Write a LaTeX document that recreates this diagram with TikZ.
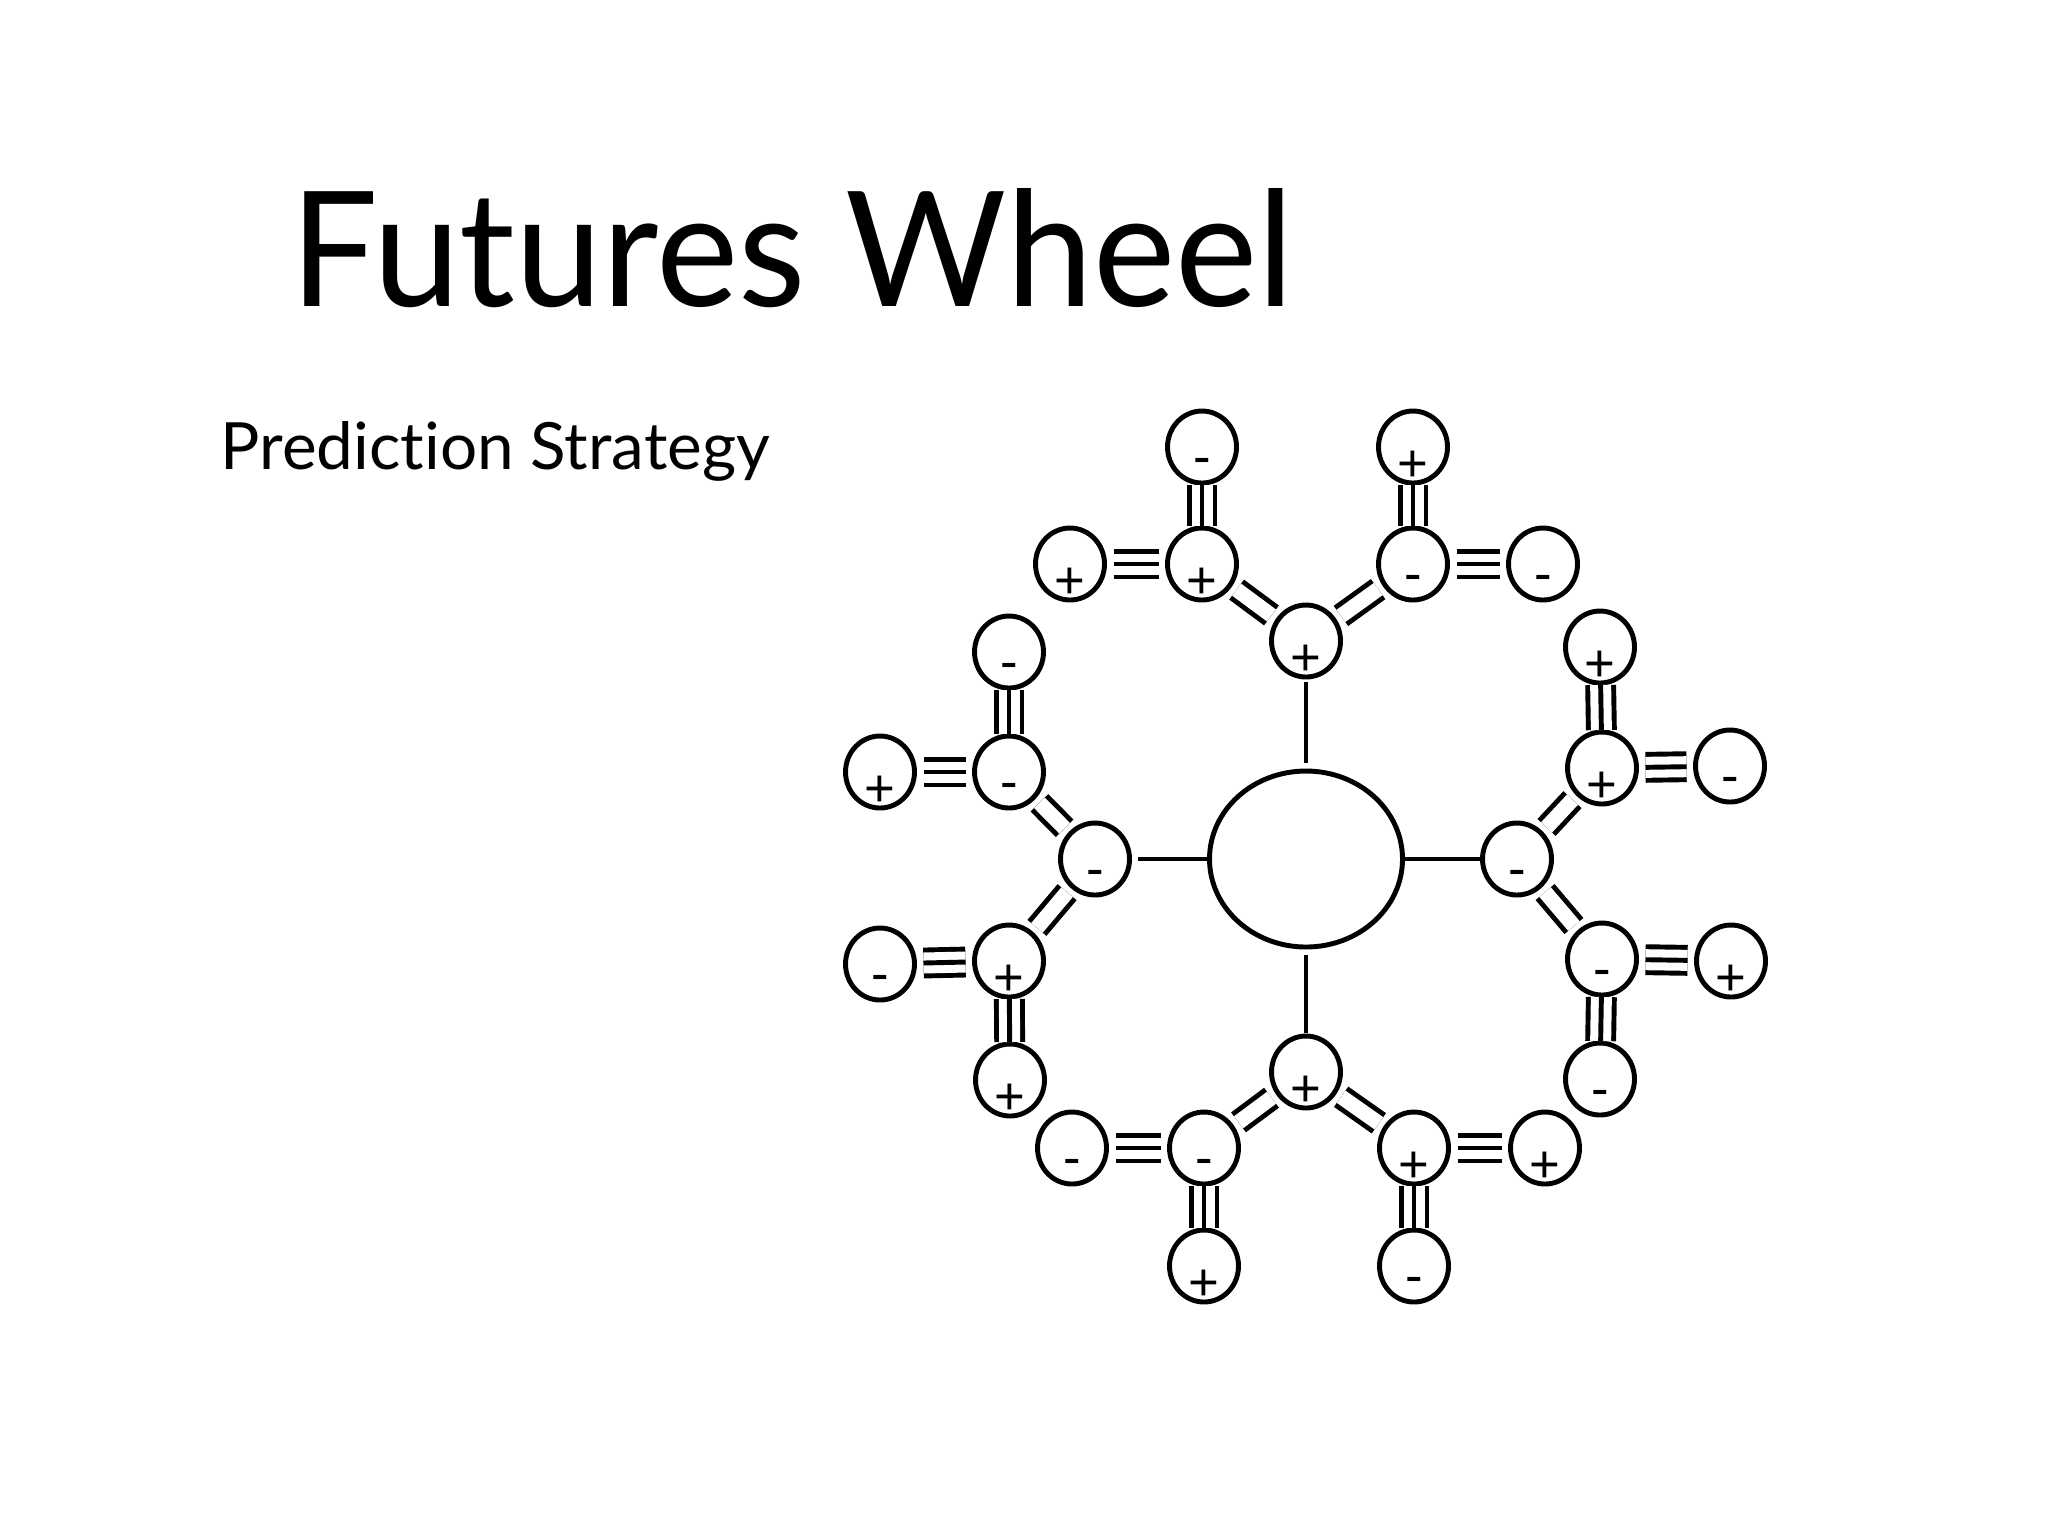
\documentclass[tikz,border=0pt]{standalone}
\usepackage{fontspec}
\usepackage{graphicx}
\usetikzlibrary{shapes.geometric}
\newfontfamily\titlefont[RawFeature={-liga}]{Lato}
\newfontfamily\sgnfont{Liberation Sans}
\newcommand\fwb[3]{\node[bub] (#1) at (#2) {};\node[sgn] (#1s) at ([yshift=-1.9mm]#1.center) {#3};}
\newcommand\fwtri[3]{\draw[tri, shorten <=#3, shorten >=#3] (#1) -- (#2);\draw[one, shorten <=#3, shorten >=#3] (#1) -- (#2);}
\begin{document}
\begin{tikzpicture}[x=0.1mm,y=-0.1mm,
  bub/.style={draw, ellipse, line width=1.4pt, minimum width=6.9mm, minimum height=7.2mm, inner sep=0pt, outer sep=0pt},
  hub/.style={draw, ellipse, line width=1.4pt, minimum width=19.3mm, minimum height=17.6mm, inner sep=0pt, outer sep=0pt},
  sgn/.style={inner sep=0pt, font=\sgnfont\fontsize{15pt}{15pt}\selectfont},
  sgl/.style={line width=1.1pt},
  one/.style={line width=1.4pt},
  dbl/.style={double, double distance=1.5mm, line width=1.4pt, shorten <=0.8mm, shorten >=0.8mm},
  tri/.style={double, double distance=2.1mm, line width=1.4pt}]
\path[use as bounding box] (0,0) rectangle (2048,1536);
\node[anchor=base west, inner sep=0pt] (title) at (290,306) {\resizebox{100.3mm}{11.8mm}{\titlefont Futures Wheel}};
\node[anchor=base west, inner sep=0pt] (sub) at (220,469) {\resizebox{54.9mm}{4.8mm}{\titlefont Prediction Strategy}};
% hub
\node[hub] (C) at (1306,859) {};
% top
\fwb{T0}{1306,641}{+}
\fwb{T1}{1202,564}{+}
\fwb{T2}{1413,564}{-}
\fwb{T1u}{1202,447}{-}
\fwb{T1l}{1070,564}{+}
\fwb{T2u}{1413,447}{+}
\fwb{T2r}{1543,564}{-}
% bottom
\fwb{B0}{1306,1072}{+}
\fwb{B1}{1204,1148}{-}
\fwb{B2}{1414,1148}{+}
\fwb{B1d}{1204,1266}{+}
\fwb{B1l}{1072,1148}{-}
\fwb{B2d}{1414,1266}{-}
\fwb{B2r}{1545,1148}{+}
% left
\fwb{L0}{1095,859}{-}
\fwb{L1}{1009,772}{-}
\fwb{L2}{1009,961}{+}
\fwb{L1u}{1009,652}{-}
\fwb{L1l}{880,772}{+}
\fwb{L2l}{880,964}{-}
\fwb{L2d}{1010,1080}{+}
% right
\fwb{R0}{1517,859}{-}
\fwb{R1}{1602,768}{+}
\fwb{R2}{1602,959}{-}
\fwb{R1u}{1600,647}{+}
\fwb{R1r}{1730,766}{-}
\fwb{R2r}{1731,961}{+}
\fwb{R2d}{1600,1079}{-}
% single spokes
\draw[sgl, shorten <=0.8mm, shorten >=0.5mm] (C) -- (T0);
\draw[sgl, shorten <=0.8mm, shorten >=0.3mm] (C) -- (B0);
\draw[sgl, shorten <=0.1mm, shorten >=0.8mm] (C) -- (L0);
\draw[sgl, shorten <=0.1mm, shorten >=0.3mm] (C) -- (R0);
% doubles
\draw[dbl] (T0) -- (T1);
\draw[dbl] (T0) -- (T2);
\draw[dbl] (B0) -- (B1);
\draw[dbl] (B0) -- (B2);
\draw[dbl] (L0) -- (L1);
\draw[dbl] (L0) -- (L2);
\draw[dbl] (R0) -- (R1);
\draw[dbl] (R0) -- (R2);
% triples
\fwtri{T1}{T1u}{0.2mm}
\fwtri{T1}{T1l}{0.9mm}
\fwtri{T2}{T2u}{0.2mm}
\fwtri{T2}{T2r}{0.9mm}
\fwtri{B1}{B1d}{0.2mm}
\fwtri{B1}{B1l}{0.9mm}
\fwtri{B2}{B2d}{0.2mm}
\fwtri{B2}{B2r}{0.9mm}
\fwtri{L1}{L1u}{0.2mm}
\fwtri{L1}{L1l}{0.9mm}
\fwtri{L2}{L2d}{0.2mm}
\fwtri{L2}{L2l}{0.9mm}
\fwtri{R1}{R1u}{0.2mm}
\fwtri{R1}{R1r}{0.9mm}
\fwtri{R2}{R2d}{0.2mm}
\fwtri{R2}{R2r}{0.9mm}
\end{tikzpicture}
\end{document}
